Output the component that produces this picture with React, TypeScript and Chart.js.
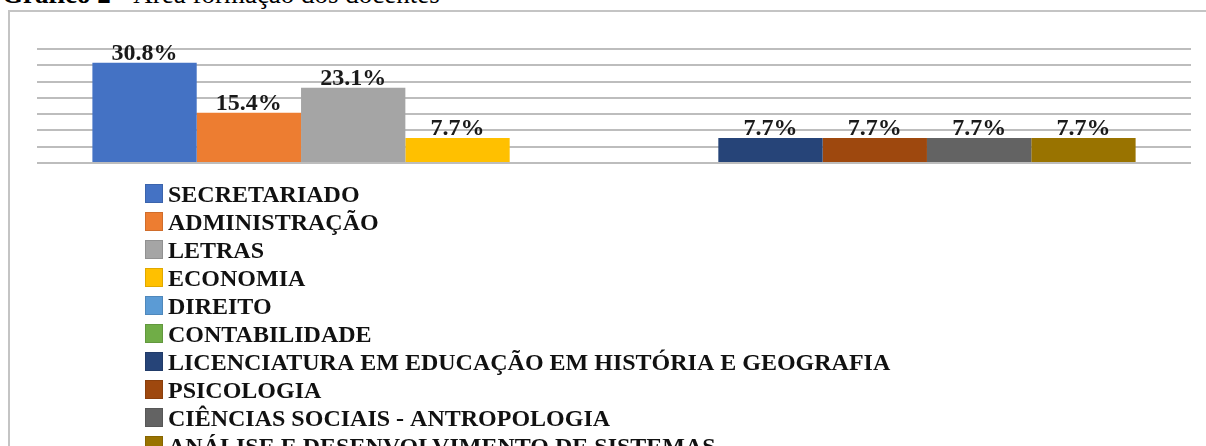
import React, { useEffect, useRef } from "react";
import { Chart, registerables } from "chart.js";

Chart.register(...registerables);

const categories: string[] = [
  "SECRETARIADO",
  "ADMINISTRAÇÃO",
  "LETRAS",
  "ECONOMIA",
  "DIREITO",
  "CONTABILIDADE",
  "LICENCIATURA EM EDUCAÇÃO EM HISTÓRIA E GEOGRAFIA",
  "PSICOLOGIA",
  "CIÊNCIAS SOCIAIS - ANTROPOLOGIA",
  "ANÁLISE E DESENVOLVIMENTO DE SISTEMAS",
];

const values: number[] = [30.8, 15.4, 23.1, 7.7, 0, 0, 7.7, 7.7, 7.7, 7.7];

const colors: string[] = [
  "#4472C4",
  "#ED7D31",
  "#A5A5A5",
  "#FFC000",
  "#5B9BD5",
  "#70AD47",
  "#264478",
  "#9E480E",
  "#636363",
  "#997300",
];

const yTicks: number[] = [0, 5, 10, 15, 20, 25, 30, 35];

const FONT = '"Liberation Serif", "Times New Roman", serif';

const labelPlugin = {
  id: "valueLabels",
  afterDatasetsDraw(chart: any) {
    const ctx = chart.ctx;
    ctx.save();
    ctx.font = `bold 24px ${FONT}`;
    ctx.fillStyle = "#1a1a1a";
    ctx.textAlign = "center";
    ctx.textBaseline = "alphabetic";
    chart.data.datasets.forEach((ds: any, i: number) => {
      const v = ds.data[0];
      if (!v) return;
      const el = chart.getDatasetMeta(i).data[0];
      ctx.fillText(v.toFixed(1) + "%", el.x, el.y - 3);
    });
    ctx.restore();
  },
};

const legendPlugin = {
  id: "verticalLegend",
  afterDraw(chart: any) {
    const ctx = chart.ctx;
    ctx.save();
    ctx.font = `bold 24px ${FONT}`;
    ctx.textAlign = "left";
    ctx.textBaseline = "alphabetic";
    chart.data.datasets.forEach((ds: any, i: number) => {
      const base = 190 + 28 * i;
      ctx.fillStyle = ds.backgroundColor;
      ctx.fillRect(135, base - 18, 18, 19);
      ctx.strokeStyle = "rgba(0,0,0,0.12)";
      ctx.lineWidth = 1;
      ctx.strokeRect(135.5, base - 17.5, 17, 18);
      ctx.fillStyle = "#111";
      ctx.fillText(ds.label, 158, base);
    });
    ctx.restore();
  },
};

export default function App() {
  const ref = useRef<HTMLCanvasElement | null>(null);

  useEffect(() => {
    if (!ref.current) return;
    const chart = new Chart(ref.current, {
      type: "bar",
      data: {
        labels: [""],
        datasets: categories.map((c, i) => ({
          label: c,
          data: [values[i]],
          backgroundColor: colors[i],
          borderWidth: 0,
          barPercentage: 1,
          categoryPercentage: 0.904,
        })),
      },
      options: {
        animation: false,
        responsive: false,
        devicePixelRatio: 1,
        layout: { padding: { left: 27, right: 15, top: 37, bottom: 283 } },
        plugins: {
          legend: { display: false },
          tooltip: { enabled: false },
          title: { display: false },
        },
        scales: {
          x: { display: false },
          y: {
            min: yTicks[0],
            max: yTicks[yTicks.length - 1],
            afterBuildTicks: (s: any) => {
              s.ticks = yTicks.map((v) => ({ value: v }));
            },
            afterFit: (s: any) => {
              s.width = 0;
            },
            ticks: { display: false },
            border: { display: false },
            grid: { color: "#bdbdbd", lineWidth: 2, drawTicks: false },
          },
        },
      },
      plugins: [labelPlugin, legendPlugin],
    });
    return () => chart.destroy();
  }, []);

  return (
    <div
      style={{
        position: "fixed",
        left: 0,
        top: 0,
        width: 1206,
        height: 446,
        background: "#fff",
        overflow: "hidden",
        fontFamily: FONT,
      }}
    >
      <div
        style={{
          position: "absolute",
          left: 2,
          top: -19,
          fontSize: 27,
          lineHeight: "27px",
          whiteSpace: "nowrap",
          color: "#000",
        }}
      >
        <b>Gráfico 2</b> - Área formação dos docentes
      </div>
      <div
        style={{
          position: "absolute",
          left: 8,
          top: 10,
          width: 1198,
          height: 436,
          borderLeft: "2px solid #c4c4c4",
          borderTop: "2px solid #c4c4c4",
          boxSizing: "border-box",
        }}
      />
      <canvas
        ref={ref}
        width={1196}
        height={434}
        style={{ position: "absolute", left: 10, top: 12, width: 1196, height: 434 }}
      />
    </div>
  );
}
